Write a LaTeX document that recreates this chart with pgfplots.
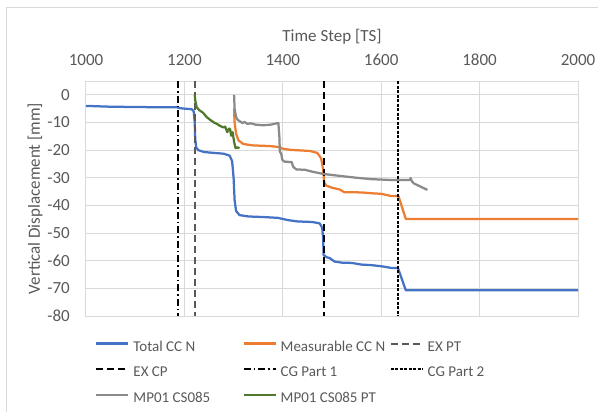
\documentclass[border=0pt]{standalone}
\usepackage{fontspec}
\setmainfont{Carlito}
\usepackage{pgfplots}
\pgfplotsset{compat=1.18}
\definecolor{txt}{HTML}{595959}
\definecolor{gridc}{HTML}{D9D9D9}
\definecolor{cblue}{HTML}{4472C4}
\definecolor{corange}{HTML}{ED7D31}
\definecolor{cgray}{HTML}{8A8A8A}
\definecolor{cgreen}{HTML}{4F7A2C}
\definecolor{exptc}{HTML}{595959}
\begin{document}
\begin{tikzpicture}
\path[use as bounding box] (0pt,0pt) rectangle (598pt,-412pt);
\draw[gridc, line width=1pt] (6pt,-8pt) rectangle (620pt,-430pt);
\begin{axis}[
  at={(86pt,-316pt)}, anchor=south west,
  scale only axis, width=492pt, height=235pt,
  xmin=1000, xmax=2000, ymin=-80, ymax=5,
  xtick={1000,1200,...,2000}, ytick={-80,-70,...,0},
  xticklabel pos=upper,
  axis line style={gridc, line width=1pt},
  grid=major, major grid style={gridc, line width=1pt},
  tick style={draw=none},
  /pgf/number format/assume math mode=true,
  /pgf/number format/set thousands separator={},
  tick label style={font=\fontsize{17}{20}\selectfont, text=txt},
  xticklabel style={anchor=base, inner sep=0pt, yshift=15.6pt},
  yticklabel style={anchor=east, inner sep=0pt, xshift=-16pt},
  label style={font=\fontsize{17}{20}\selectfont, text=txt},
  xlabel={Time Step [TS]},
  xlabel style={at={(axis description cs:0.5,1)}, anchor=base, inner sep=0pt, yshift=39.6pt},
  ylabel={Vertical Displacement [mm]},
  ylabel style={at={(axis description cs:-0.1037,0.5)}, anchor=center, inner sep=0pt},
  legend columns=3,
  legend cell align=left,
  legend image code/.code={\draw[#1] (0pt,3.5pt) -- (32pt,3.5pt);},
  legend style={at={(axis description cs:0.0183,0)}, anchor=north west, yshift=-23.8pt,
    draw=none, fill=none, inner sep=0pt, row sep=11.7pt,
    font=\fontsize{15}{18}\selectfont, text=txt,
    nodes={inner sep=0pt, text height=11pt, text depth=3pt},
    /tikz/every odd column/.append style={column sep=4pt},
    /tikz/every even column/.append style={column sep=4pt}},
]
\addplot[cblue, line width=2.25pt, line join=round] coordinates {
(1000,-4.0) (1050,-4.3) (1100,-4.4) (1150,-4.5) (1185,-4.5) (1190,-4.8) (1200,-5.0) (1215,-5.2) (1219,-6) (1221,-10) (1222,-16) (1224,-19) (1228,-20) (1240,-20.7) (1260,-21) (1280,-21.3) (1292,-22) (1297,-24) (1300,-30) (1302,-38) (1305,-42) (1312,-43.5) (1330,-44) (1360,-44.2) (1390,-44.5) (1410,-45.3) (1430,-45.8) (1460,-46) (1475,-46.5) (1480,-48) (1482,-52) (1483,-58) (1490,-58.8) (1495,-59) (1505,-60.3) (1520,-60.7) (1540,-60.8) (1560,-61.4) (1580,-61.6) (1600,-62) (1620,-62.6) (1634,-62.6) (1650,-70.7) (2000,-70.7)};
\addlegendentry{\makebox[105pt][l]{Total CC N}}
\addplot[corange, line width=2.25pt, line join=round] coordinates {
(1301,-5) (1302,-10) (1305,-14) (1310,-16.5) (1320,-17.8) (1340,-18.3) (1370,-18.5) (1390,-18.8) (1400,-19.5) (1415,-19.9) (1455,-20.3) (1470,-21) (1478,-23) (1482,-27) (1484,-31.5) (1488,-32.8) (1500,-33.6) (1515,-34.2) (1525,-35.2) (1560,-35.3) (1580,-35.6) (1600,-35.8) (1620,-36.6) (1635,-36.6) (1650,-44.9) (2000,-44.9)};
\addlegendentry{\makebox[105pt][l]{Measurable CC N}}
\addplot[exptc, line width=2pt, dash pattern=on 7pt off 4pt] coordinates {(1221,5) (1221,-80)};
\addlegendentry{\makebox[105pt][l]{EX PT}}
\addplot[black, line width=2pt, dash pattern=on 7pt off 4pt] coordinates {(1483.5,5) (1483.5,-80)};
\addlegendentry{\makebox[105pt][l]{EX CP}}
\addplot[black, line width=2pt, dash pattern=on 7pt off 3pt on 1.5pt off 3pt] coordinates {(1186,5) (1186,-80)};
\addlegendentry{\makebox[105pt][l]{CG Part 1}}
\addplot[black, line width=2pt, dash pattern=on 3pt off 1.5pt] coordinates {(1635,5) (1635,-80)};
\addlegendentry{\makebox[105pt][l]{CG Part 2}}
\addplot[cgray, line width=2.25pt, line join=round] coordinates {
(1301,0) (1302,-5) (1305,-8) (1308,-9) (1312,-9.5) (1318,-10.2) (1322,-9.8) (1328,-10.5) (1335,-10.3) (1345,-10.8) (1360,-11) (1375,-10.8) (1385,-10.4) (1391,-10.2) (1393,-15) (1394,-20.5) (1397,-21.5) (1399,-23.5) (1404,-24.2) (1418,-24.3) (1421,-26) (1424,-26.5) (1428,-27) (1445,-27.1) (1460,-27.8) (1482,-28.6) (1500,-29) (1520,-29.4) (1550,-30) (1580,-30.5) (1620,-30.8) (1658,-30.8) (1660,-30.1) (1662,-31.2) (1666,-32) (1694,-34.4)};
\addlegendentry{\makebox[105pt][l]{MP01 CS085}}
\addplot[cgreen, line width=2.25pt, line join=round] coordinates {
(1221,0) (1222,-2) (1225,-4.5) (1230,-5.5) (1238,-6.5) (1245,-8) (1252,-9) (1260,-10) (1266,-10.5) (1272,-11.2) (1279,-11.8) (1283,-11.5) (1287,-13.5) (1291,-12.2) (1293,-12.5) (1295,-14.8) (1298,-13.5) (1301,-17) (1304,-19.3) (1308,-19) (1312,-19.3)};
\addlegendentry{\makebox[105pt][l]{MP01 CS085 PT}}
\end{axis}
\end{tikzpicture}
\end{document}
